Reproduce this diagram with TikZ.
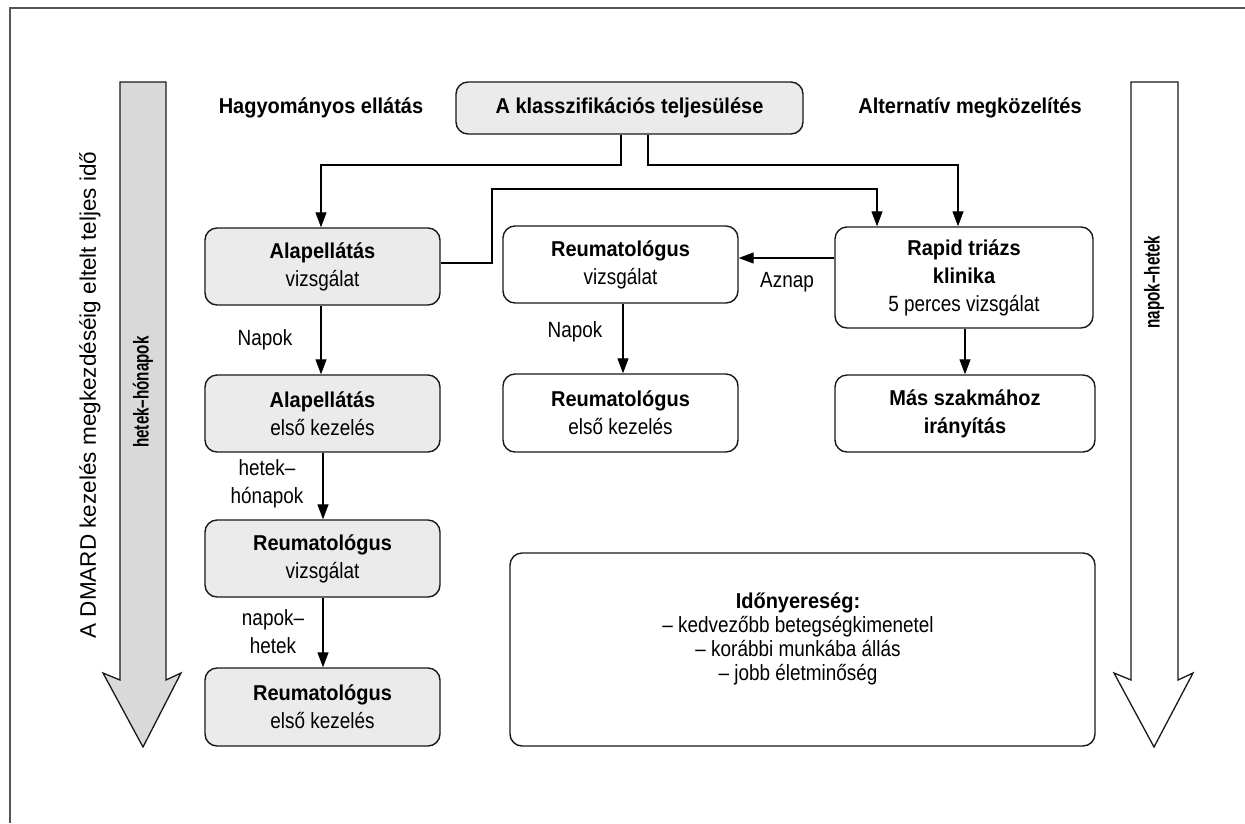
\documentclass[tikz,border=0pt]{standalone}
\usepackage{fontspec}
\setmainfont{Liberation Sans}[UprightFeatures={FakeStretch=0.86}, BoldFeatures={FakeStretch=0.93}]
\newfontfamily\widesans{Liberation Sans}
\usetikzlibrary{arrows.meta}
\definecolor{boxgray}{HTML}{EBEBEB}
\definecolor{arrowgray}{HTML}{D9D9D9}
\definecolor{framegray}{HTML}{555555}
\newcommand{\rf}{\fontsize{22}{28}\selectfont}
\newcommand{\bft}[1]{{\fontsize{21.5}{28}\selectfont\bfseries #1}}
\newcommand{\narrowbold}[1]{\scalebox{0.76}[1]{\fontsize{21.5}{24}\selectfont\bfseries #1}}
\tikzset{
  box/.style={draw=black!90, line width=1.4pt, rounded corners=12pt, align=center,
    inner sep=0pt, font=\rf},
  graybox/.style={box, fill=boxgray},
  conn/.style={line width=1.2pt, -{Triangle[length=15pt,width=11pt]}},
  lbl/.style={font=\rf, align=center, inner sep=0pt},
  head/.style={font=\fontsize{21.5}{28}\selectfont\bfseries, inner sep=0pt},
  sidehead/.style={inner sep=0pt},
  bigarrow/.style={draw=black!90, line width=1.3pt, line join=miter},
}
\begin{document}
\begin{tikzpicture}[x=1pt,y=-1pt]
\useasboundingbox (0,0) rectangle (1245,823);
% frame
\draw[framegray, line width=2pt] (10,823) -- (10,8) -- (1245,8);

% big arrows
\draw[bigarrow, fill=arrowgray] (120,82) -- (166,82) -- (166,680) -- (181,673) -- (143,747) -- (103,673) -- (120,680) -- cycle;
\draw[bigarrow, fill=white] (1131,82) -- (1178,82) -- (1178,680) -- (1193,673) -- (1154,747) -- (1114,673) -- (1131,680) -- cycle;
\node[lbl, font=\widesans\fontsize{22.5}{28}\selectfont, rotate=90] (tot) at (90,395) {A DMARD kezelés megkezdéséig eltelt teljes idő};
\node[sidehead, rotate=90] (hh) at (143,392) {\narrowbold{hetek–hónapok}};
\node[sidehead, rotate=90] (nh) at (1154,282) {\narrowbold{napok–hetek}};

% headings
\node[head] (h1) at (321,108) {Hagyományos ellátás};
\node[head] (h2) at (970,108) {Alternatív megközelítés};
\node[graybox, minimum width=347pt, minimum height=52pt] (top) at (629.5,108) {\bft{A klasszifikációs teljesülése}};

% left column
\node[graybox, minimum width=235pt, minimum height=77pt] (a1) at (322.5,266.5) {\bft{Alapellátás}\\vizsgálat};
\node[graybox, minimum width=235pt, minimum height=77pt] (a2) at (322.5,413.5) {\bft{Alapellátás}\\első kezelés};
\node[graybox, minimum width=235pt, minimum height=77pt] (a3) at (322.5,558.5) {\bft{Reumatológus}\\vizsgálat};
\node[graybox, minimum width=235pt, minimum height=78pt] (a4) at (322.5,707) {\bft{Reumatológus}\\első kezelés};

% middle column
\node[box, minimum width=235pt, minimum height=77pt] (m1) at (620.5,264.5) {\bft{Reumatológus}\\vizsgálat};
\node[box, minimum width=235pt, minimum height=78pt] (m2) at (620.5,413) {\bft{Reumatológus}\\első kezelés};

% right column
\node[box, minimum width=258pt, minimum height=101pt] (r1) at (964,277.5) {\bft{Rapid triázs}\\\bft{klinika}\\5 perces vizsgálat};
\node[box, minimum width=260pt, minimum height=77pt] (r2) at (965,413.5) {\bft{Más szakmához}\\\bft{irányítás}};

% gain box
\node[box, minimum width=585pt, minimum height=193pt] (g) at (802.5,649.5) {};
\node[lbl, font=\fontsize{22}{24}\selectfont] (gt) at (798,639) {\bft{Időnyereség:}\\– kedvezőbb betegségkimenetel\\– korábbi munkába állás\\– jobb életminőség};

% connectors
\draw[conn] (top.south -| 621,0) -- (621,165) -- (321,165) -- (a1.north -| 321,0);
\draw[conn] (top.south -| 648,0) -- (648,165) -- (958,165) -- (r1.north -| 958,0);
\draw[conn] (a1.east |- 0,263) -- (492,263) -- (492,189) -- (877,189) -- (r1.north -| 877,0);
\draw[conn] (r1.west |- 0,258) -- (m1.east |- 0,258);
\draw[conn] (a1.south -| 321,0) -- (a2.north -| 321,0);
\draw[conn] (a2.south -| 323,0) -- (a3.north -| 323,0);
\draw[conn] (a3.south -| 323,0) -- (a4.north -| 323,0);
\draw[conn] (m1.south -| 623,0) -- (m2.north -| 623,0);
\draw[conn] (r1.south -| 965,0) -- (r2.north -| 965,0);

% labels
\node[lbl] (l1) at (265,340) {Napok};
\node[lbl] (l2) at (267,484) {hetek–\\hónapok};
\node[lbl] (l3) at (273,632) {napok–\\hetek};
\node[lbl] (l4) at (575,332) {Napok};
\node[lbl] (l5) at (787,282) {Aznap};
\end{tikzpicture}
\end{document}
